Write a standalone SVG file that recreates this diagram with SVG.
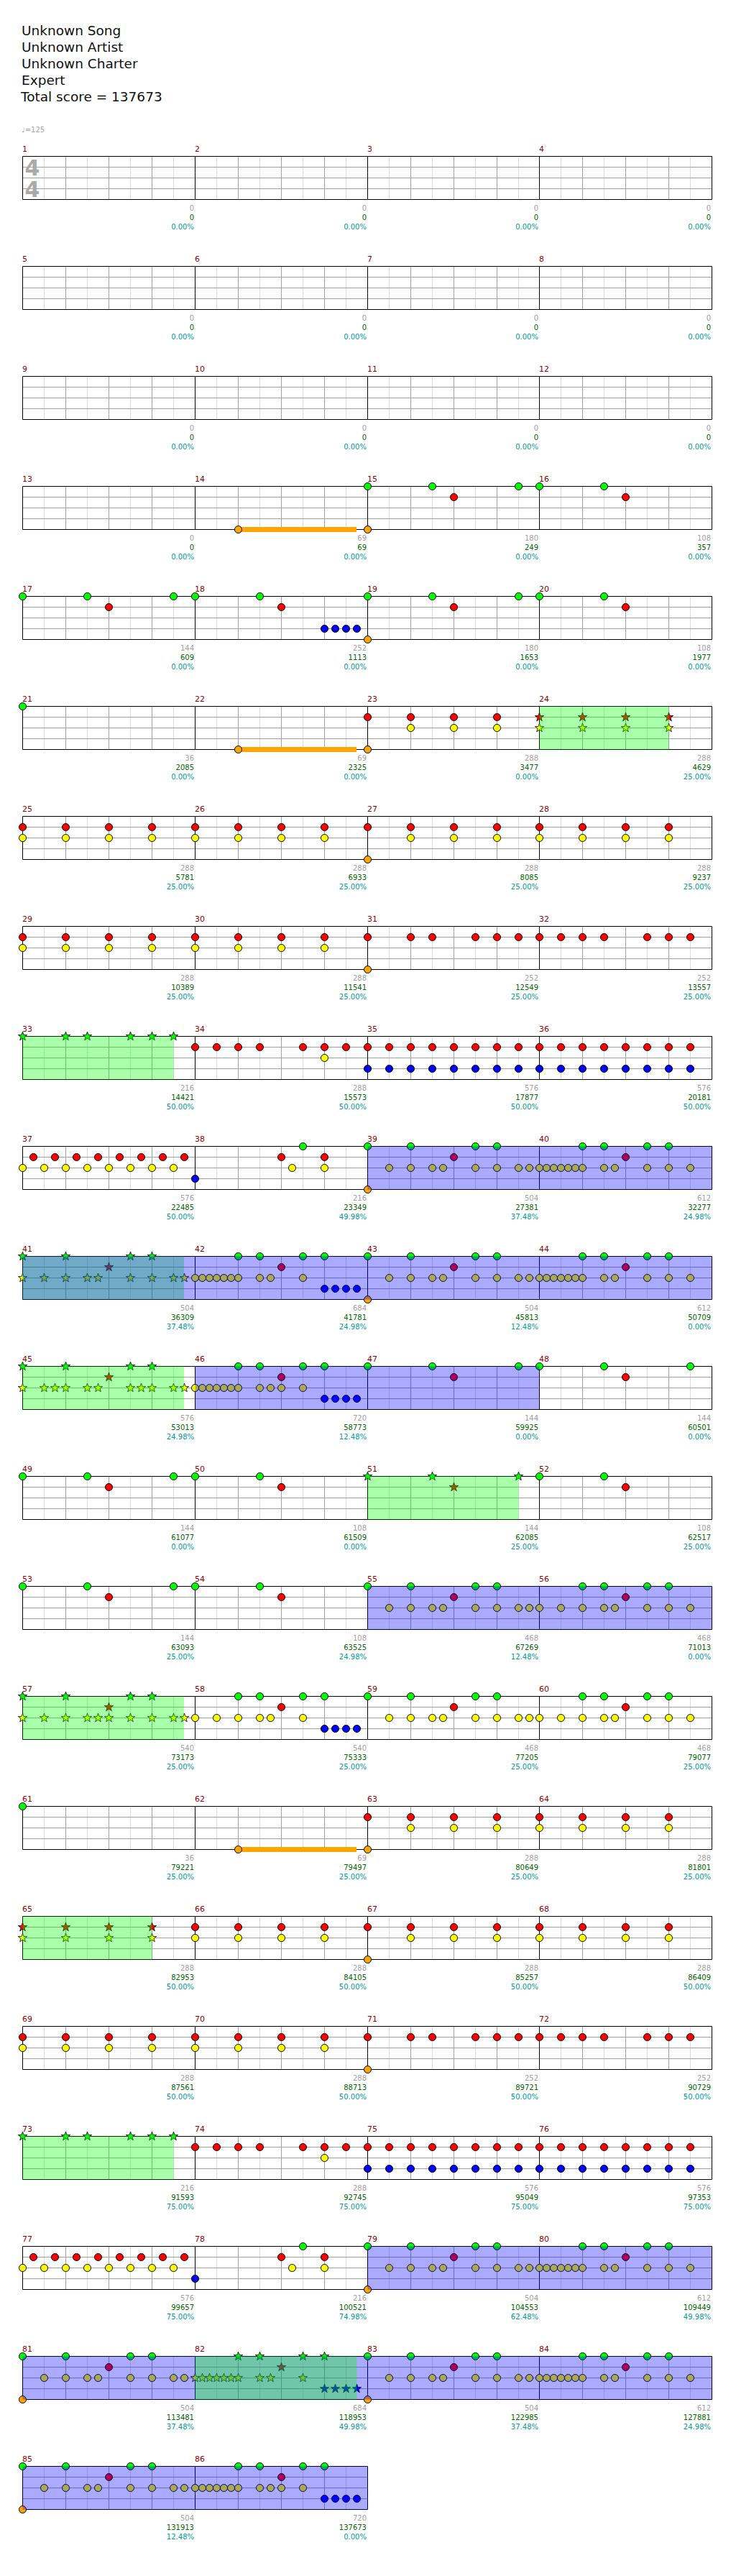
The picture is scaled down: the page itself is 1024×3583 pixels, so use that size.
<svg xmlns="http://www.w3.org/2000/svg" xmlns:xlink="http://www.w3.org/1999/xlink" width="1024" height="3583" viewBox="0 0 1024 3583">
<style>
.mn{font-family:"DejaVu Sans",sans-serif;font-size:11px;fill:#8b0000}
.t1,.t2,.t3{font-family:"DejaVu Sans",sans-serif;font-size:10px;text-anchor:end}
.t1{fill:#a0a0a0}.t2{fill:#006400}.t3{fill:#009999}
.G{fill:#00ff00}.R{fill:#ff0000}.Y{fill:#ffff00}.B{fill:#0000ff}.O{fill:#ffa500}
.su{fill:#ffa500}
.sp{fill:#00ff00;fill-opacity:.333}
.od{fill:#0000ff;fill-opacity:.333}
</style>
<defs>
<g id="gr" fill="none">
<path d="M30 0V60M90 0V60M150 0V60M210 0V60" stroke="#dcdcdc"/>
<path d="M0 15H240M0 30H240M0 45H240M60 0V60M120 0V60M180 0V60" stroke="#a0a0a0"/>
<path d="M0 0H240M0 60H240M0 0V60" stroke="#000"/>
</g>
<circle id="c" r="5" stroke="#000"/>
<path id="s" d="M0,-6.5L1.53,-2.1L6.18,-2.01L2.47,0.8L3.82,5.26L0,2.6L-3.82,5.26L-2.47,0.8L-6.18,-2.01L-1.53,-2.1Z" stroke="#000" stroke-width="0.8"/>
<g id="p144"><use href="#c" class="G" x="0" y="0"/><use href="#c" class="G" x="90" y="0"/><use href="#c" class="R" x="120" y="15"/><use href="#c" class="G" x="210" y="0"/></g>
<g id="s144"><use href="#s" class="G" x="0" y="0"/><use href="#s" class="G" x="90" y="0"/><use href="#s" class="R" x="120" y="15"/><use href="#s" class="G" x="210" y="0"/></g>
<g id="p108"><use href="#c" class="G" x="0" y="0"/><use href="#c" class="G" x="90" y="0"/><use href="#c" class="R" x="120" y="15"/></g>
<g id="ry4"><use href="#c" class="R" x="0" y="15"/><use href="#c" class="Y" x="0" y="30"/><use href="#c" class="R" x="60" y="15"/><use href="#c" class="Y" x="60" y="30"/><use href="#c" class="R" x="120" y="15"/><use href="#c" class="Y" x="120" y="30"/><use href="#c" class="R" x="180" y="15"/><use href="#c" class="Y" x="180" y="30"/></g>
<g id="ry4s"><use href="#s" class="R" x="0" y="15"/><use href="#s" class="Y" x="0" y="30"/><use href="#s" class="R" x="60" y="15"/><use href="#s" class="Y" x="60" y="30"/><use href="#s" class="R" x="120" y="15"/><use href="#s" class="Y" x="120" y="30"/><use href="#s" class="R" x="180" y="15"/><use href="#s" class="Y" x="180" y="30"/></g>
<g id="p23"><use href="#c" class="R" x="0" y="15"/><use href="#c" class="O" x="0" y="60"/><use href="#c" class="R" x="60" y="15"/><use href="#c" class="Y" x="60" y="30"/><use href="#c" class="R" x="120" y="15"/><use href="#c" class="Y" x="120" y="30"/><use href="#c" class="R" x="180" y="15"/><use href="#c" class="Y" x="180" y="30"/></g>
<g id="p31"><use href="#c" class="R" x="0" y="15"/><use href="#c" class="O" x="0" y="60"/><use href="#c" class="R" x="60" y="15"/><use href="#c" class="R" x="90" y="15"/><use href="#c" class="R" x="150" y="15"/><use href="#c" class="R" x="180" y="15"/><use href="#c" class="R" x="210" y="15"/></g>
<g id="p32"><use href="#c" class="R" x="0" y="15"/><use href="#c" class="R" x="30" y="15"/><use href="#c" class="R" x="60" y="15"/><use href="#c" class="R" x="90" y="15"/><use href="#c" class="R" x="150" y="15"/><use href="#c" class="R" x="180" y="15"/><use href="#c" class="R" x="210" y="15"/></g>
<g id="g6s"><use href="#s" class="G" x="0" y="0"/><use href="#s" class="G" x="60" y="0"/><use href="#s" class="G" x="90" y="0"/><use href="#s" class="G" x="150" y="0"/><use href="#s" class="G" x="180" y="0"/><use href="#s" class="G" x="210" y="0"/></g>
<g id="p34"><use href="#c" class="R" x="0" y="15"/><use href="#c" class="R" x="30" y="15"/><use href="#c" class="R" x="60" y="15"/><use href="#c" class="R" x="90" y="15"/><use href="#c" class="R" x="150" y="15"/><use href="#c" class="R" x="180" y="15"/><use href="#c" class="Y" x="180" y="30"/><use href="#c" class="R" x="210" y="15"/></g>
<g id="rb16"><use href="#c" class="R" x="0" y="15"/><use href="#c" class="B" x="0" y="45"/><use href="#c" class="R" x="30" y="15"/><use href="#c" class="B" x="30" y="45"/><use href="#c" class="R" x="60" y="15"/><use href="#c" class="B" x="60" y="45"/><use href="#c" class="R" x="90" y="15"/><use href="#c" class="B" x="90" y="45"/><use href="#c" class="R" x="120" y="15"/><use href="#c" class="B" x="120" y="45"/><use href="#c" class="R" x="150" y="15"/><use href="#c" class="B" x="150" y="45"/><use href="#c" class="R" x="180" y="15"/><use href="#c" class="B" x="180" y="45"/><use href="#c" class="R" x="210" y="15"/><use href="#c" class="B" x="210" y="45"/></g>
<g id="ry16"><use href="#c" class="Y" x="0" y="30"/><use href="#c" class="R" x="15" y="15"/><use href="#c" class="Y" x="30" y="30"/><use href="#c" class="R" x="45" y="15"/><use href="#c" class="Y" x="60" y="30"/><use href="#c" class="R" x="75" y="15"/><use href="#c" class="Y" x="90" y="30"/><use href="#c" class="R" x="105" y="15"/><use href="#c" class="Y" x="120" y="30"/><use href="#c" class="R" x="135" y="15"/><use href="#c" class="Y" x="150" y="30"/><use href="#c" class="R" x="165" y="15"/><use href="#c" class="Y" x="180" y="30"/><use href="#c" class="R" x="195" y="15"/><use href="#c" class="Y" x="210" y="30"/><use href="#c" class="R" x="225" y="15"/></g>
<g id="p38"><use href="#c" class="B" x="0" y="45"/><use href="#c" class="R" x="120" y="15"/><use href="#c" class="Y" x="135" y="30"/><use href="#c" class="G" x="150" y="0"/><use href="#c" class="R" x="180" y="15"/><use href="#c" class="Y" x="180" y="30"/></g>
<g id="pA13"><use href="#c" class="G" x="0" y="0"/><use href="#c" class="Y" x="30" y="30"/><use href="#c" class="G" x="60" y="0"/><use href="#c" class="Y" x="60" y="30"/><use href="#c" class="Y" x="90" y="30"/><use href="#c" class="Y" x="105" y="30"/><use href="#c" class="R" x="120" y="15"/><use href="#c" class="G" x="150" y="0"/><use href="#c" class="Y" x="150" y="30"/><use href="#c" class="G" x="180" y="0"/><use href="#c" class="Y" x="180" y="30"/><use href="#c" class="Y" x="210" y="30"/><use href="#c" class="Y" x="225" y="30"/></g>
<g id="pA"><use href="#pA13"/><use href="#c" class="O" x="0" y="60"/></g>
<g id="pC"><use href="#c" class="Y" x="0" y="30"/><use href="#c" class="Y" x="30" y="30"/><use href="#c" class="G" x="60" y="0"/><use href="#c" class="Y" x="60" y="30"/><use href="#c" class="G" x="90" y="0"/><use href="#c" class="Y" x="90" y="30"/><use href="#c" class="Y" x="105" y="30"/><use href="#c" class="R" x="120" y="15"/><use href="#c" class="G" x="150" y="0"/><use href="#c" class="Y" x="150" y="30"/><use href="#c" class="G" x="180" y="0"/><use href="#c" class="Y" x="180" y="30"/><use href="#c" class="Y" x="210" y="30"/></g>
<g id="pB"><use href="#pC"/><use href="#c" class="Y" x="10" y="30"/><use href="#c" class="Y" x="20" y="30"/><use href="#c" class="Y" x="40" y="30"/><use href="#c" class="Y" x="50" y="30"/></g>
<g id="p58"><use href="#c" class="Y" x="0" y="30"/><use href="#c" class="Y" x="30" y="30"/><use href="#c" class="Y" x="60" y="30"/><use href="#c" class="G" x="60" y="0"/><use href="#c" class="G" x="90" y="0"/><use href="#c" class="Y" x="90" y="30"/><use href="#c" class="Y" x="105" y="30"/><use href="#c" class="R" x="120" y="15"/><use href="#c" class="G" x="150" y="0"/><use href="#c" class="Y" x="150" y="30"/><use href="#c" class="G" x="180" y="0"/><use href="#c" class="B" x="180" y="45"/><use href="#c" class="B" x="195" y="45"/><use href="#c" class="B" x="210" y="45"/><use href="#c" class="B" x="225" y="45"/></g>
<g id="p42"><use href="#p58"/><use href="#c" class="Y" x="10" y="30"/><use href="#c" class="Y" x="20" y="30"/><use href="#c" class="Y" x="40" y="30"/><use href="#c" class="Y" x="50" y="30"/></g>
<g id="s42"><use href="#s" class="Y" x="0" y="30"/><use href="#s" class="Y" x="10" y="30"/><use href="#s" class="Y" x="20" y="30"/><use href="#s" class="Y" x="30" y="30"/><use href="#s" class="Y" x="40" y="30"/><use href="#s" class="Y" x="50" y="30"/><use href="#s" class="Y" x="60" y="30"/><use href="#s" class="G" x="60" y="0"/><use href="#s" class="G" x="90" y="0"/><use href="#s" class="Y" x="90" y="30"/><use href="#s" class="Y" x="105" y="30"/><use href="#s" class="R" x="120" y="15"/><use href="#s" class="G" x="150" y="0"/><use href="#s" class="Y" x="150" y="30"/><use href="#s" class="G" x="180" y="0"/><use href="#s" class="B" x="180" y="45"/><use href="#s" class="B" x="195" y="45"/><use href="#s" class="B" x="210" y="45"/><use href="#s" class="B" x="225" y="45"/></g>
<g id="s41"><use href="#s" class="G" x="0" y="0"/><use href="#s" class="Y" x="0" y="30"/><use href="#s" class="Y" x="30" y="30"/><use href="#s" class="G" x="60" y="0"/><use href="#s" class="Y" x="60" y="30"/><use href="#s" class="Y" x="90" y="30"/><use href="#s" class="Y" x="105" y="30"/><use href="#s" class="R" x="120" y="15"/><use href="#s" class="G" x="150" y="0"/><use href="#s" class="Y" x="150" y="30"/><use href="#s" class="G" x="180" y="0"/><use href="#s" class="Y" x="180" y="30"/><use href="#s" class="Y" x="210" y="30"/><use href="#s" class="Y" x="225" y="30"/></g>
</defs>

<g id="header" font-family="DejaVu Sans, sans-serif" font-size="18.5" fill="#111">
<text x="30" y="49">Unknown Song</text>
<text x="30" y="72">Unknown Artist</text>
<text x="30" y="95">Unknown Charter</text>
<text x="30" y="118">Expert</text>
<text x="29" y="141">Total score = 137673</text>
</g>
<text id="tempo" x="30" y="184" font-family="DejaVu Sans, sans-serif" font-size="10" fill="#a0a0a0">♩=125</text>

<g id="m1" transform="translate(31.5,217.5)"><use href="#gr"/>
<text x="13.5" y="26.5" font-family="DejaVu Sans, sans-serif" font-weight="bold" font-size="30" fill="#aaa" text-anchor="middle">4</text>
<text x="13.5" y="56.5" font-family="DejaVu Sans, sans-serif" font-weight="bold" font-size="30" fill="#aaa" text-anchor="middle">4</text>
<text class="mn" x="-0.5" y="-7">1</text><text class="t1" x="238.5" y="75">0</text><text class="t2" x="238.5" y="88">0</text><text class="t3" x="238.5" y="101">0.00%</text></g>
<g id="m2" transform="translate(271.5,217.5)"><use href="#gr"/><text class="mn" x="-0.5" y="-7">2</text><text class="t1" x="238.5" y="75">0</text><text class="t2" x="238.5" y="88">0</text><text class="t3" x="238.5" y="101">0.00%</text></g>
<g id="m3" transform="translate(511.5,217.5)"><use href="#gr"/><text class="mn" x="-0.5" y="-7">3</text><text class="t1" x="237.5" y="75">0</text><text class="t2" x="237.5" y="88">0</text><text class="t3" x="237.5" y="101">0.00%</text></g>
<g id="m4" transform="translate(750.5,217.5)"><use href="#gr"/><path d="M240 0V60" stroke="#000"/><text class="mn" x="-0.5" y="-7">4</text><text class="t1" x="238.5" y="75">0</text><text class="t2" x="238.5" y="88">0</text><text class="t3" x="238.5" y="101">0.00%</text></g>

<g id="m5" transform="translate(31.5,370.5)"><use href="#gr"/><text class="mn" x="-0.5" y="-7">5</text><text class="t1" x="238.5" y="75">0</text><text class="t2" x="238.5" y="88">0</text><text class="t3" x="238.5" y="101">0.00%</text></g>
<g id="m6" transform="translate(271.5,370.5)"><use href="#gr"/><text class="mn" x="-0.5" y="-7">6</text><text class="t1" x="238.5" y="75">0</text><text class="t2" x="238.5" y="88">0</text><text class="t3" x="238.5" y="101">0.00%</text></g>
<g id="m7" transform="translate(511.5,370.5)"><use href="#gr"/><text class="mn" x="-0.5" y="-7">7</text><text class="t1" x="237.5" y="75">0</text><text class="t2" x="237.5" y="88">0</text><text class="t3" x="237.5" y="101">0.00%</text></g>
<g id="m8" transform="translate(750.5,370.5)"><use href="#gr"/><path d="M240 0V60" stroke="#000"/><text class="mn" x="-0.5" y="-7">8</text><text class="t1" x="238.5" y="75">0</text><text class="t2" x="238.5" y="88">0</text><text class="t3" x="238.5" y="101">0.00%</text></g>

<g id="m9" transform="translate(31.5,523.5)"><use href="#gr"/><text class="mn" x="-0.5" y="-7">9</text><text class="t1" x="238.5" y="75">0</text><text class="t2" x="238.5" y="88">0</text><text class="t3" x="238.5" y="101">0.00%</text></g>
<g id="m10" transform="translate(271.5,523.5)"><use href="#gr"/><text class="mn" x="-0.5" y="-7">10</text><text class="t1" x="238.5" y="75">0</text><text class="t2" x="238.5" y="88">0</text><text class="t3" x="238.5" y="101">0.00%</text></g>
<g id="m11" transform="translate(511.5,523.5)"><use href="#gr"/><text class="mn" x="-0.5" y="-7">11</text><text class="t1" x="237.5" y="75">0</text><text class="t2" x="237.5" y="88">0</text><text class="t3" x="237.5" y="101">0.00%</text></g>
<g id="m12" transform="translate(750.5,523.5)"><use href="#gr"/><path d="M240 0V60" stroke="#000"/><text class="mn" x="-0.5" y="-7">12</text><text class="t1" x="238.5" y="75">0</text><text class="t2" x="238.5" y="88">0</text><text class="t3" x="238.5" y="101">0.00%</text></g>

<g id="m13" transform="translate(31.5,676.5)"><use href="#gr"/><text class="mn" x="-0.5" y="-7">13</text><text class="t1" x="238.5" y="75">0</text><text class="t2" x="238.5" y="88">0</text><text class="t3" x="238.5" y="101">0.00%</text></g>
<g id="m14" transform="translate(271.5,676.5)"><use href="#gr"/><rect class="su" x="60" y="56.5" width="164.5" height="7"/><use href="#c" class="O" x="60" y="60"/><text class="mn" x="-0.5" y="-7">14</text><text class="t1" x="238.5" y="75">69</text><text class="t2" x="238.5" y="88">69</text><text class="t3" x="238.5" y="101">0.00%</text></g>
<g id="m15" transform="translate(511.5,676.5)"><use href="#gr"/><use href="#p144"/><use href="#c" class="O" x="0" y="60"/><text class="mn" x="-0.5" y="-7">15</text><text class="t1" x="237.5" y="75">180</text><text class="t2" x="237.5" y="88">249</text><text class="t3" x="237.5" y="101">0.00%</text></g>
<g id="m16" transform="translate(750.5,676.5)"><use href="#gr"/><path d="M240 0V60" stroke="#000"/><use href="#p108"/><text class="mn" x="-0.5" y="-7">16</text><text class="t1" x="238.5" y="75">108</text><text class="t2" x="238.5" y="88">357</text><text class="t3" x="238.5" y="101">0.00%</text></g>

<g id="m17" transform="translate(31.5,829.5)"><use href="#gr"/><use href="#p144"/><text class="mn" x="-0.5" y="-7">17</text><text class="t1" x="238.5" y="75">144</text><text class="t2" x="238.5" y="88">609</text><text class="t3" x="238.5" y="101">0.00%</text></g>
<g id="m18" transform="translate(271.5,829.5)"><use href="#gr"/><use href="#p108"/><use href="#c" class="B" x="180" y="45"/><use href="#c" class="B" x="195" y="45"/><use href="#c" class="B" x="210" y="45"/><use href="#c" class="B" x="225" y="45"/><text class="mn" x="-0.5" y="-7">18</text><text class="t1" x="238.5" y="75">252</text><text class="t2" x="238.5" y="88">1113</text><text class="t3" x="238.5" y="101">0.00%</text></g>
<g id="m19" transform="translate(511.5,829.5)"><use href="#gr"/><use href="#p144"/><use href="#c" class="O" x="0" y="60"/><text class="mn" x="-0.5" y="-7">19</text><text class="t1" x="237.5" y="75">180</text><text class="t2" x="237.5" y="88">1653</text><text class="t3" x="237.5" y="101">0.00%</text></g>
<g id="m20" transform="translate(750.5,829.5)"><use href="#gr"/><path d="M240 0V60" stroke="#000"/><use href="#p108"/><text class="mn" x="-0.5" y="-7">20</text><text class="t1" x="238.5" y="75">108</text><text class="t2" x="238.5" y="88">1977</text><text class="t3" x="238.5" y="101">0.00%</text></g>

<g id="m21" transform="translate(31.5,982.5)"><use href="#gr"/><use href="#c" class="G" x="0" y="0"/><text class="mn" x="-0.5" y="-7">21</text><text class="t1" x="238.5" y="75">36</text><text class="t2" x="238.5" y="88">2085</text><text class="t3" x="238.5" y="101">0.00%</text></g>
<g id="m22" transform="translate(271.5,982.5)"><use href="#gr"/><rect class="su" x="60" y="56.5" width="164.5" height="7"/><use href="#c" class="O" x="60" y="60"/><text class="mn" x="-0.5" y="-7">22</text><text class="t1" x="238.5" y="75">69</text><text class="t2" x="238.5" y="88">2325</text><text class="t3" x="238.5" y="101">0.00%</text></g>
<g id="m23" transform="translate(511.5,982.5)"><use href="#gr"/><use href="#p23"/><text class="mn" x="-0.5" y="-7">23</text><text class="t1" x="237.5" y="75">288</text><text class="t2" x="237.5" y="88">3477</text><text class="t3" x="237.5" y="101">0.00%</text></g>
<g id="m24" transform="translate(750.5,982.5)"><use href="#gr"/><path d="M240 0V60" stroke="#000"/><use href="#ry4s"/><text class="mn" x="-0.5" y="-7">24</text><text class="t1" x="238.5" y="75">288</text><text class="t2" x="238.5" y="88">4629</text><text class="t3" x="238.5" y="101">25.00%</text></g>

<g id="m25" transform="translate(31.5,1135.5)"><use href="#gr"/><use href="#ry4"/><text class="mn" x="-0.5" y="-7">25</text><text class="t1" x="238.5" y="75">288</text><text class="t2" x="238.5" y="88">5781</text><text class="t3" x="238.5" y="101">25.00%</text></g>
<g id="m26" transform="translate(271.5,1135.5)"><use href="#gr"/><use href="#ry4"/><text class="mn" x="-0.5" y="-7">26</text><text class="t1" x="238.5" y="75">288</text><text class="t2" x="238.5" y="88">6933</text><text class="t3" x="238.5" y="101">25.00%</text></g>
<g id="m27" transform="translate(511.5,1135.5)"><use href="#gr"/><use href="#p23"/><text class="mn" x="-0.5" y="-7">27</text><text class="t1" x="237.5" y="75">288</text><text class="t2" x="237.5" y="88">8085</text><text class="t3" x="237.5" y="101">25.00%</text></g>
<g id="m28" transform="translate(750.5,1135.5)"><use href="#gr"/><path d="M240 0V60" stroke="#000"/><use href="#ry4"/><text class="mn" x="-0.5" y="-7">28</text><text class="t1" x="238.5" y="75">288</text><text class="t2" x="238.5" y="88">9237</text><text class="t3" x="238.5" y="101">25.00%</text></g>

<g id="m29" transform="translate(31.5,1288.5)"><use href="#gr"/><use href="#ry4"/><text class="mn" x="-0.5" y="-7">29</text><text class="t1" x="238.5" y="75">288</text><text class="t2" x="238.5" y="88">10389</text><text class="t3" x="238.5" y="101">25.00%</text></g>
<g id="m30" transform="translate(271.5,1288.5)"><use href="#gr"/><use href="#ry4"/><text class="mn" x="-0.5" y="-7">30</text><text class="t1" x="238.5" y="75">288</text><text class="t2" x="238.5" y="88">11541</text><text class="t3" x="238.5" y="101">25.00%</text></g>
<g id="m31" transform="translate(511.5,1288.5)"><use href="#gr"/><use href="#p31"/><text class="mn" x="-0.5" y="-7">31</text><text class="t1" x="237.5" y="75">252</text><text class="t2" x="237.5" y="88">12549</text><text class="t3" x="237.5" y="101">25.00%</text></g>
<g id="m32" transform="translate(750.5,1288.5)"><use href="#gr"/><path d="M240 0V60" stroke="#000"/><use href="#p32"/><text class="mn" x="-0.5" y="-7">32</text><text class="t1" x="238.5" y="75">252</text><text class="t2" x="238.5" y="88">13557</text><text class="t3" x="238.5" y="101">25.00%</text></g>

<g id="m33" transform="translate(31.5,1441.5)"><use href="#gr"/><use href="#g6s"/><text class="mn" x="-0.5" y="-7">33</text><text class="t1" x="238.5" y="75">216</text><text class="t2" x="238.5" y="88">14421</text><text class="t3" x="238.5" y="101">50.00%</text></g>
<g id="m34" transform="translate(271.5,1441.5)"><use href="#gr"/><use href="#p34"/><text class="mn" x="-0.5" y="-7">34</text><text class="t1" x="238.5" y="75">288</text><text class="t2" x="238.5" y="88">15573</text><text class="t3" x="238.5" y="101">50.00%</text></g>
<g id="m35" transform="translate(511.5,1441.5)"><use href="#gr"/><use href="#rb16"/><text class="mn" x="-0.5" y="-7">35</text><text class="t1" x="237.5" y="75">576</text><text class="t2" x="237.5" y="88">17877</text><text class="t3" x="237.5" y="101">50.00%</text></g>
<g id="m36" transform="translate(750.5,1441.5)"><use href="#gr"/><path d="M240 0V60" stroke="#000"/><use href="#rb16"/><text class="mn" x="-0.5" y="-7">36</text><text class="t1" x="238.5" y="75">576</text><text class="t2" x="238.5" y="88">20181</text><text class="t3" x="238.5" y="101">50.00%</text></g>

<g id="m37" transform="translate(31.5,1594.5)"><use href="#gr"/><use href="#ry16"/><text class="mn" x="-0.5" y="-7">37</text><text class="t1" x="238.5" y="75">576</text><text class="t2" x="238.5" y="88">22485</text><text class="t3" x="238.5" y="101">50.00%</text></g>
<g id="m38" transform="translate(271.5,1594.5)"><use href="#gr"/><use href="#p38"/><text class="mn" x="-0.5" y="-7">38</text><text class="t1" x="238.5" y="75">216</text><text class="t2" x="238.5" y="88">23349</text><text class="t3" x="238.5" y="101">49.98%</text></g>
<g id="m39" transform="translate(511.5,1594.5)"><use href="#gr"/><use href="#pA"/><text class="mn" x="-0.5" y="-7">39</text><text class="t1" x="237.5" y="75">504</text><text class="t2" x="237.5" y="88">27381</text><text class="t3" x="237.5" y="101">37.48%</text></g>
<g id="m40" transform="translate(750.5,1594.5)"><use href="#gr"/><path d="M240 0V60" stroke="#000"/><use href="#pB"/><text class="mn" x="-0.5" y="-7">40</text><text class="t1" x="238.5" y="75">612</text><text class="t2" x="238.5" y="88">32277</text><text class="t3" x="238.5" y="101">24.98%</text></g>

<g id="m41" transform="translate(31.5,1747.5)"><use href="#gr"/><use href="#s41"/><text class="mn" x="-0.5" y="-7">41</text><text class="t1" x="238.5" y="75">504</text><text class="t2" x="238.5" y="88">36309</text><text class="t3" x="238.5" y="101">37.48%</text></g>
<g id="m42" transform="translate(271.5,1747.5)"><use href="#gr"/><use href="#p42"/><text class="mn" x="-0.5" y="-7">42</text><text class="t1" x="238.5" y="75">684</text><text class="t2" x="238.5" y="88">41781</text><text class="t3" x="238.5" y="101">24.98%</text></g>
<g id="m43" transform="translate(511.5,1747.5)"><use href="#gr"/><use href="#pA"/><text class="mn" x="-0.5" y="-7">43</text><text class="t1" x="237.5" y="75">504</text><text class="t2" x="237.5" y="88">45813</text><text class="t3" x="237.5" y="101">12.48%</text></g>
<g id="m44" transform="translate(750.5,1747.5)"><use href="#gr"/><path d="M240 0V60" stroke="#000"/><use href="#pB"/><text class="mn" x="-0.5" y="-7">44</text><text class="t1" x="238.5" y="75">612</text><text class="t2" x="238.5" y="88">50709</text><text class="t3" x="238.5" y="101">0.00%</text></g>

<g id="m45" transform="translate(31.5,1900.5)"><use href="#gr"/><use href="#s41"/><use href="#s" class="Y" x="45" y="30"/><use href="#s" class="Y" x="165" y="30"/><text class="mn" x="-0.5" y="-7">45</text><text class="t1" x="238.5" y="75">576</text><text class="t2" x="238.5" y="88">53013</text><text class="t3" x="238.5" y="101">24.98%</text></g>
<g id="m46" transform="translate(271.5,1900.5)"><use href="#gr"/><use href="#p42"/><use href="#c" class="Y" x="120" y="30"/><text class="mn" x="-0.5" y="-7">46</text><text class="t1" x="238.5" y="75">720</text><text class="t2" x="238.5" y="88">58773</text><text class="t3" x="238.5" y="101">12.48%</text></g>
<g id="m47" transform="translate(511.5,1900.5)"><use href="#gr"/><use href="#p144"/><text class="mn" x="-0.5" y="-7">47</text><text class="t1" x="237.5" y="75">144</text><text class="t2" x="237.5" y="88">59925</text><text class="t3" x="237.5" y="101">0.00%</text></g>
<g id="m48" transform="translate(750.5,1900.5)"><use href="#gr"/><path d="M240 0V60" stroke="#000"/><use href="#p144"/><text class="mn" x="-0.5" y="-7">48</text><text class="t1" x="238.5" y="75">144</text><text class="t2" x="238.5" y="88">60501</text><text class="t3" x="238.5" y="101">0.00%</text></g>

<g id="m49" transform="translate(31.5,2053.5)"><use href="#gr"/><use href="#p144"/><text class="mn" x="-0.5" y="-7">49</text><text class="t1" x="238.5" y="75">144</text><text class="t2" x="238.5" y="88">61077</text><text class="t3" x="238.5" y="101">0.00%</text></g>
<g id="m50" transform="translate(271.5,2053.5)"><use href="#gr"/><use href="#p108"/><text class="mn" x="-0.5" y="-7">50</text><text class="t1" x="238.5" y="75">108</text><text class="t2" x="238.5" y="88">61509</text><text class="t3" x="238.5" y="101">0.00%</text></g>
<g id="m51" transform="translate(511.5,2053.5)"><use href="#gr"/><use href="#s144"/><text class="mn" x="-0.5" y="-7">51</text><text class="t1" x="237.5" y="75">144</text><text class="t2" x="237.5" y="88">62085</text><text class="t3" x="237.5" y="101">25.00%</text></g>
<g id="m52" transform="translate(750.5,2053.5)"><use href="#gr"/><path d="M240 0V60" stroke="#000"/><use href="#p108"/><text class="mn" x="-0.5" y="-7">52</text><text class="t1" x="238.5" y="75">108</text><text class="t2" x="238.5" y="88">62517</text><text class="t3" x="238.5" y="101">25.00%</text></g>

<g id="m53" transform="translate(31.5,2206.5)"><use href="#gr"/><use href="#p144"/><text class="mn" x="-0.5" y="-7">53</text><text class="t1" x="238.5" y="75">144</text><text class="t2" x="238.5" y="88">63093</text><text class="t3" x="238.5" y="101">25.00%</text></g>
<g id="m54" transform="translate(271.5,2206.5)"><use href="#gr"/><use href="#p108"/><text class="mn" x="-0.5" y="-7">54</text><text class="t1" x="238.5" y="75">108</text><text class="t2" x="238.5" y="88">63525</text><text class="t3" x="238.5" y="101">24.98%</text></g>
<g id="m55" transform="translate(511.5,2206.5)"><use href="#gr"/><use href="#pA13"/><text class="mn" x="-0.5" y="-7">55</text><text class="t1" x="237.5" y="75">468</text><text class="t2" x="237.5" y="88">67269</text><text class="t3" x="237.5" y="101">12.48%</text></g>
<g id="m56" transform="translate(750.5,2206.5)"><use href="#gr"/><path d="M240 0V60" stroke="#000"/><use href="#pC"/><text class="mn" x="-0.5" y="-7">56</text><text class="t1" x="238.5" y="75">468</text><text class="t2" x="238.5" y="88">71013</text><text class="t3" x="238.5" y="101">0.00%</text></g>

<g id="m57" transform="translate(31.5,2359.5)"><use href="#gr"/><use href="#s41"/><use href="#s" class="Y" x="120" y="30"/><text class="mn" x="-0.5" y="-7">57</text><text class="t1" x="238.5" y="75">540</text><text class="t2" x="238.5" y="88">73173</text><text class="t3" x="238.5" y="101">25.00%</text></g>
<g id="m58" transform="translate(271.5,2359.5)"><use href="#gr"/><use href="#p58"/><text class="mn" x="-0.5" y="-7">58</text><text class="t1" x="238.5" y="75">540</text><text class="t2" x="238.5" y="88">75333</text><text class="t3" x="238.5" y="101">25.00%</text></g>
<g id="m59" transform="translate(511.5,2359.5)"><use href="#gr"/><use href="#pA13"/><text class="mn" x="-0.5" y="-7">59</text><text class="t1" x="237.5" y="75">468</text><text class="t2" x="237.5" y="88">77205</text><text class="t3" x="237.5" y="101">25.00%</text></g>
<g id="m60" transform="translate(750.5,2359.5)"><use href="#gr"/><path d="M240 0V60" stroke="#000"/><use href="#pC"/><text class="mn" x="-0.5" y="-7">60</text><text class="t1" x="238.5" y="75">468</text><text class="t2" x="238.5" y="88">79077</text><text class="t3" x="238.5" y="101">25.00%</text></g>

<g id="m61" transform="translate(31.5,2512.5)"><use href="#gr"/><use href="#c" class="G" x="0" y="0"/><text class="mn" x="-0.5" y="-7">61</text><text class="t1" x="238.5" y="75">36</text><text class="t2" x="238.5" y="88">79221</text><text class="t3" x="238.5" y="101">25.00%</text></g>
<g id="m62" transform="translate(271.5,2512.5)"><use href="#gr"/><rect class="su" x="60" y="56.5" width="164.5" height="7"/><use href="#c" class="O" x="60" y="60"/><text class="mn" x="-0.5" y="-7">62</text><text class="t1" x="238.5" y="75">69</text><text class="t2" x="238.5" y="88">79497</text><text class="t3" x="238.5" y="101">25.00%</text></g>
<g id="m63" transform="translate(511.5,2512.5)"><use href="#gr"/><use href="#p23"/><text class="mn" x="-0.5" y="-7">63</text><text class="t1" x="237.5" y="75">288</text><text class="t2" x="237.5" y="88">80649</text><text class="t3" x="237.5" y="101">25.00%</text></g>
<g id="m64" transform="translate(750.5,2512.5)"><use href="#gr"/><path d="M240 0V60" stroke="#000"/><use href="#ry4"/><text class="mn" x="-0.5" y="-7">64</text><text class="t1" x="238.5" y="75">288</text><text class="t2" x="238.5" y="88">81801</text><text class="t3" x="238.5" y="101">25.00%</text></g>

<g id="m65" transform="translate(31.5,2665.5)"><use href="#gr"/><use href="#ry4s"/><text class="mn" x="-0.5" y="-7">65</text><text class="t1" x="238.5" y="75">288</text><text class="t2" x="238.5" y="88">82953</text><text class="t3" x="238.5" y="101">50.00%</text></g>
<g id="m66" transform="translate(271.5,2665.5)"><use href="#gr"/><use href="#ry4"/><text class="mn" x="-0.5" y="-7">66</text><text class="t1" x="238.5" y="75">288</text><text class="t2" x="238.5" y="88">84105</text><text class="t3" x="238.5" y="101">50.00%</text></g>
<g id="m67" transform="translate(511.5,2665.5)"><use href="#gr"/><use href="#p23"/><text class="mn" x="-0.5" y="-7">67</text><text class="t1" x="237.5" y="75">288</text><text class="t2" x="237.5" y="88">85257</text><text class="t3" x="237.5" y="101">50.00%</text></g>
<g id="m68" transform="translate(750.5,2665.5)"><use href="#gr"/><path d="M240 0V60" stroke="#000"/><use href="#ry4"/><text class="mn" x="-0.5" y="-7">68</text><text class="t1" x="238.5" y="75">288</text><text class="t2" x="238.5" y="88">86409</text><text class="t3" x="238.5" y="101">50.00%</text></g>

<g id="m69" transform="translate(31.5,2818.5)"><use href="#gr"/><use href="#ry4"/><text class="mn" x="-0.5" y="-7">69</text><text class="t1" x="238.5" y="75">288</text><text class="t2" x="238.5" y="88">87561</text><text class="t3" x="238.5" y="101">50.00%</text></g>
<g id="m70" transform="translate(271.5,2818.5)"><use href="#gr"/><use href="#ry4"/><text class="mn" x="-0.5" y="-7">70</text><text class="t1" x="238.5" y="75">288</text><text class="t2" x="238.5" y="88">88713</text><text class="t3" x="238.5" y="101">50.00%</text></g>
<g id="m71" transform="translate(511.5,2818.5)"><use href="#gr"/><use href="#p31"/><text class="mn" x="-0.5" y="-7">71</text><text class="t1" x="237.5" y="75">252</text><text class="t2" x="237.5" y="88">89721</text><text class="t3" x="237.5" y="101">50.00%</text></g>
<g id="m72" transform="translate(750.5,2818.5)"><use href="#gr"/><path d="M240 0V60" stroke="#000"/><use href="#p32"/><text class="mn" x="-0.5" y="-7">72</text><text class="t1" x="238.5" y="75">252</text><text class="t2" x="238.5" y="88">90729</text><text class="t3" x="238.5" y="101">50.00%</text></g>

<g id="m73" transform="translate(31.5,2971.5)"><use href="#gr"/><use href="#g6s"/><text class="mn" x="-0.5" y="-7">73</text><text class="t1" x="238.5" y="75">216</text><text class="t2" x="238.5" y="88">91593</text><text class="t3" x="238.5" y="101">75.00%</text></g>
<g id="m74" transform="translate(271.5,2971.5)"><use href="#gr"/><use href="#p34"/><text class="mn" x="-0.5" y="-7">74</text><text class="t1" x="238.5" y="75">288</text><text class="t2" x="238.5" y="88">92745</text><text class="t3" x="238.5" y="101">75.00%</text></g>
<g id="m75" transform="translate(511.5,2971.5)"><use href="#gr"/><use href="#rb16"/><text class="mn" x="-0.5" y="-7">75</text><text class="t1" x="237.5" y="75">576</text><text class="t2" x="237.5" y="88">95049</text><text class="t3" x="237.5" y="101">75.00%</text></g>
<g id="m76" transform="translate(750.5,2971.5)"><use href="#gr"/><path d="M240 0V60" stroke="#000"/><use href="#rb16"/><text class="mn" x="-0.5" y="-7">76</text><text class="t1" x="238.5" y="75">576</text><text class="t2" x="238.5" y="88">97353</text><text class="t3" x="238.5" y="101">75.00%</text></g>

<g id="m77" transform="translate(31.5,3124.5)"><use href="#gr"/><use href="#ry16"/><text class="mn" x="-0.5" y="-7">77</text><text class="t1" x="238.5" y="75">576</text><text class="t2" x="238.5" y="88">99657</text><text class="t3" x="238.5" y="101">75.00%</text></g>
<g id="m78" transform="translate(271.5,3124.5)"><use href="#gr"/><use href="#p38"/><text class="mn" x="-0.5" y="-7">78</text><text class="t1" x="238.5" y="75">216</text><text class="t2" x="238.5" y="88">100521</text><text class="t3" x="238.5" y="101">74.98%</text></g>
<g id="m79" transform="translate(511.5,3124.5)"><use href="#gr"/><use href="#pA"/><text class="mn" x="-0.5" y="-7">79</text><text class="t1" x="237.5" y="75">504</text><text class="t2" x="237.5" y="88">104553</text><text class="t3" x="237.5" y="101">62.48%</text></g>
<g id="m80" transform="translate(750.5,3124.5)"><use href="#gr"/><path d="M240 0V60" stroke="#000"/><use href="#pB"/><text class="mn" x="-0.5" y="-7">80</text><text class="t1" x="238.5" y="75">612</text><text class="t2" x="238.5" y="88">109449</text><text class="t3" x="238.5" y="101">49.98%</text></g>

<g id="m81" transform="translate(31.5,3277.5)"><use href="#gr"/><use href="#pA"/><text class="mn" x="-0.5" y="-7">81</text><text class="t1" x="238.5" y="75">504</text><text class="t2" x="238.5" y="88">113481</text><text class="t3" x="238.5" y="101">37.48%</text></g>
<g id="m82" transform="translate(271.5,3277.5)"><use href="#gr"/><use href="#s42"/><text class="mn" x="-0.5" y="-7">82</text><text class="t1" x="238.5" y="75">684</text><text class="t2" x="238.5" y="88">118953</text><text class="t3" x="238.5" y="101">49.98%</text></g>
<g id="m83" transform="translate(511.5,3277.5)"><use href="#gr"/><use href="#pA"/><text class="mn" x="-0.5" y="-7">83</text><text class="t1" x="237.5" y="75">504</text><text class="t2" x="237.5" y="88">122985</text><text class="t3" x="237.5" y="101">37.48%</text></g>
<g id="m84" transform="translate(750.5,3277.5)"><use href="#gr"/><path d="M240 0V60" stroke="#000"/><use href="#pB"/><text class="mn" x="-0.5" y="-7">84</text><text class="t1" x="238.5" y="75">612</text><text class="t2" x="238.5" y="88">127881</text><text class="t3" x="238.5" y="101">24.98%</text></g>

<g id="m85" transform="translate(31.5,3430.5)"><use href="#gr"/><use href="#pA"/><text class="mn" x="-0.5" y="-7">85</text><text class="t1" x="238.5" y="75">504</text><text class="t2" x="238.5" y="88">131913</text><text class="t3" x="238.5" y="101">12.48%</text></g>
<g id="m86" transform="translate(271.5,3430.5)"><use href="#gr"/><path d="M240 0V60" stroke="#000"/><use href="#p42"/><use href="#c" class="Y" x="120" y="30"/><text class="mn" x="-0.5" y="-7">86</text><text class="t1" x="238.5" y="75">720</text><text class="t2" x="238.5" y="88">137673</text><text class="t3" x="238.5" y="101">0.00%</text></g>

<g id="overlays">
<rect class="sp" x="750.5" y="982.5" width="180" height="60"/>
<rect class="sp" x="31.5" y="1441.5" width="210" height="60"/>
<rect class="od" x="511.5" y="1594.5" width="479" height="60"/>
<rect class="sp" x="31.5" y="1747.5" width="224.5" height="60"/>
<rect class="od" x="31.5" y="1747.5" width="959" height="60"/>
<rect class="sp" x="31.5" y="1900.5" width="224.5" height="60"/>
<rect class="od" x="271.5" y="1900.5" width="479" height="60"/>
<rect class="sp" x="511.5" y="2053.5" width="210" height="60"/>
<rect class="od" x="511.5" y="2206.5" width="479" height="60"/>
<rect class="sp" x="31.5" y="2359.5" width="224.5" height="60"/>
<rect class="sp" x="31.5" y="2665.5" width="180" height="60"/>
<rect class="sp" x="31.5" y="2971.5" width="210" height="60"/>
<rect class="od" x="511.5" y="3124.5" width="479" height="60"/>
<rect class="od" x="31.5" y="3277.5" width="959" height="60"/>
<rect class="sp" x="271.5" y="3277.5" width="225" height="60"/>
<rect class="od" x="31.5" y="3430.5" width="480" height="60"/>
</g>
</svg>
